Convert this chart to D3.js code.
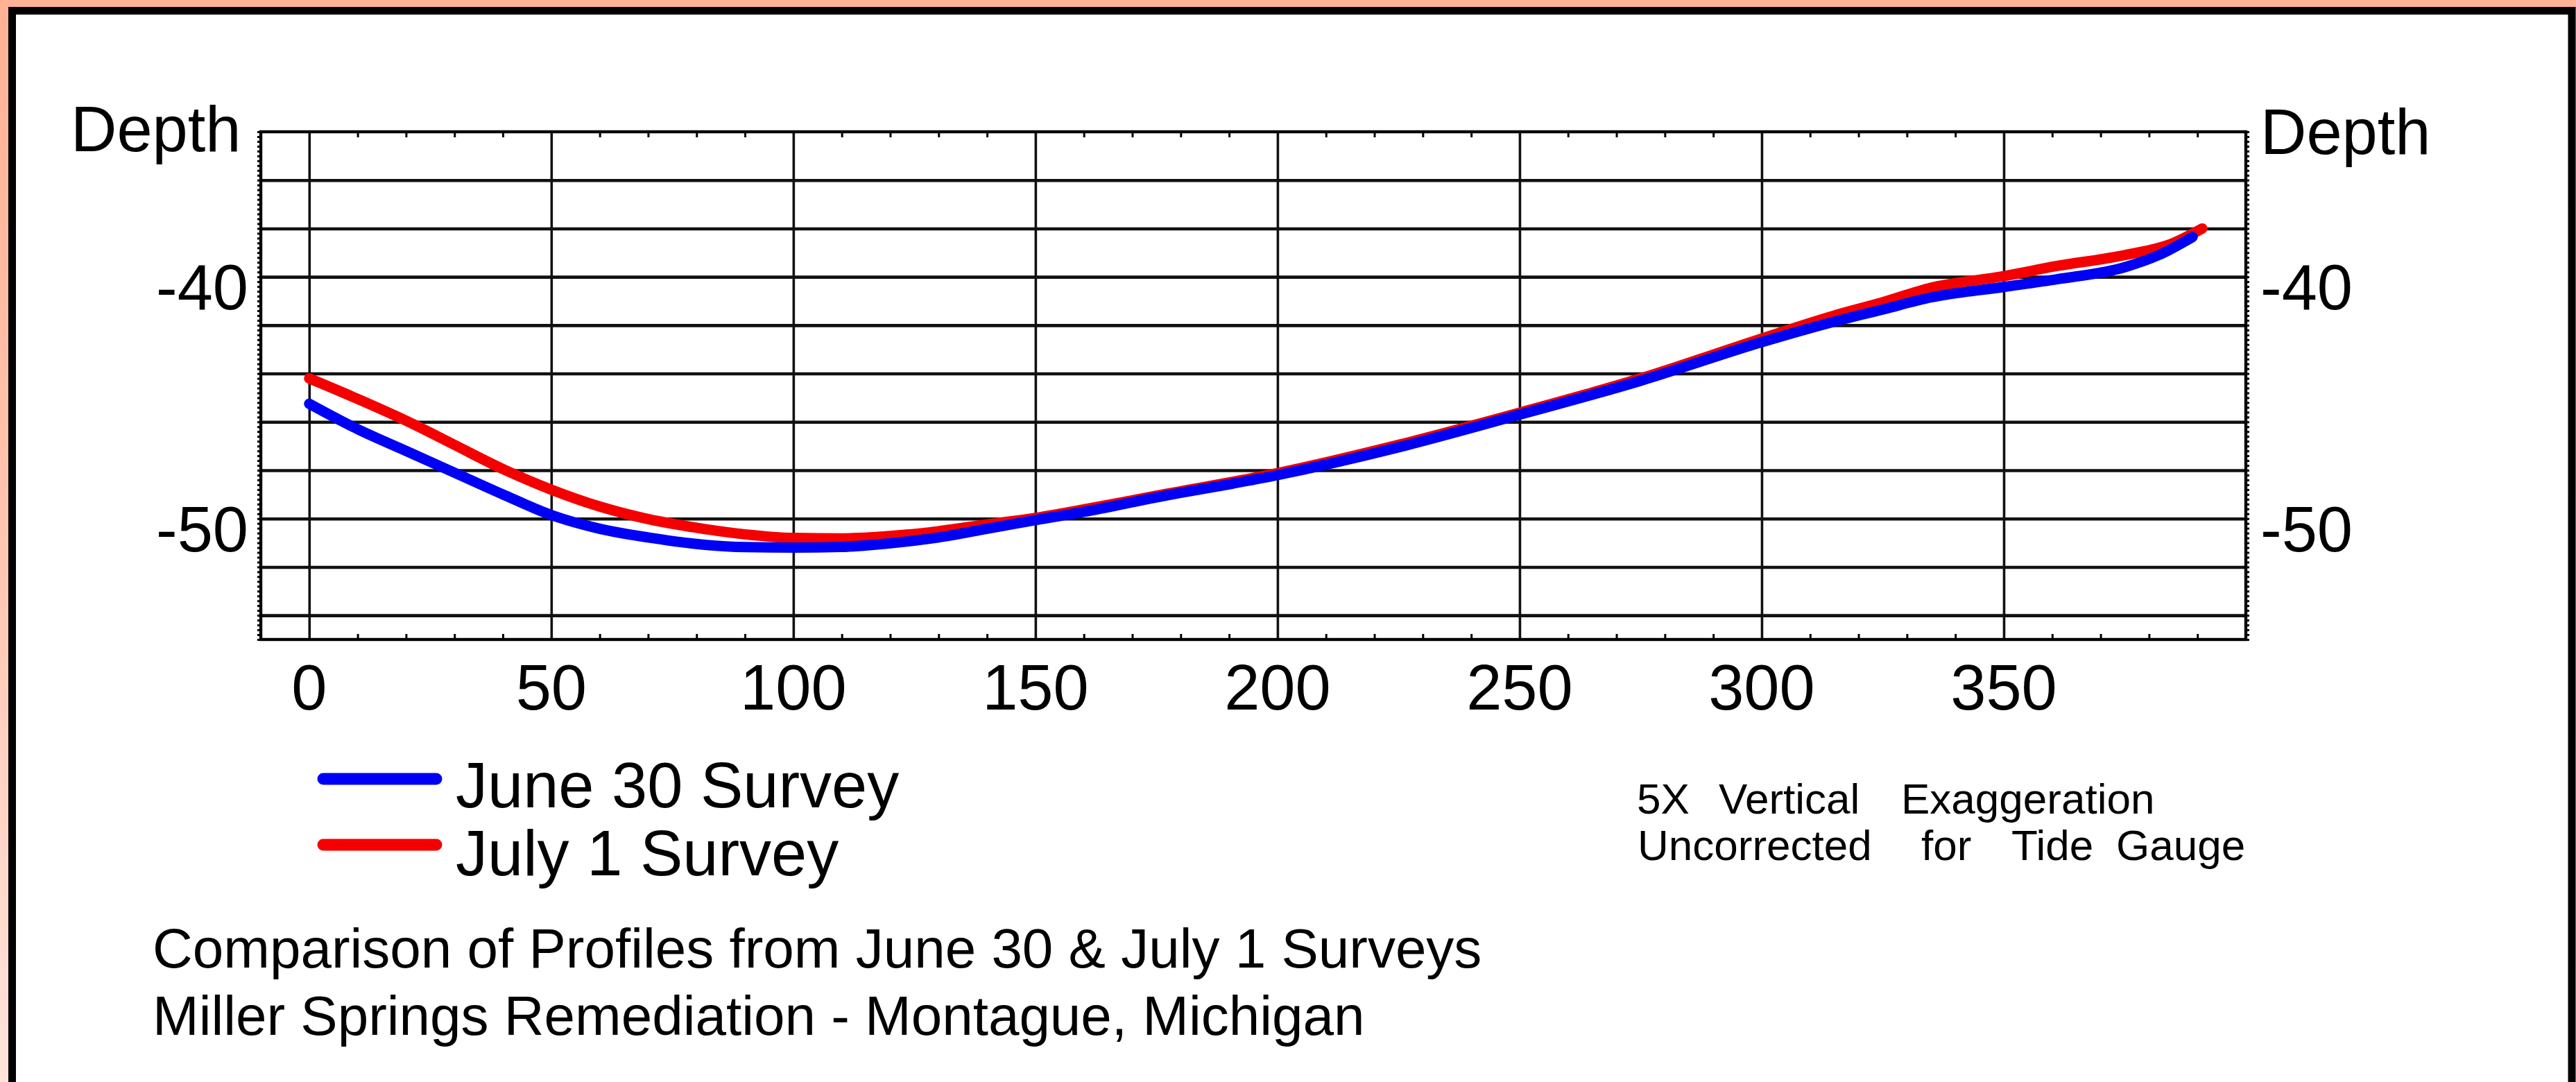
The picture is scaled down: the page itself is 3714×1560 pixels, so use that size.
<!DOCTYPE html>
<html>
<head>
<meta charset="utf-8">
<script src="https://cdn.jsdelivr.net/npm/d3@7"></script>
<style>
  html, body { margin: 0; padding: 0; overflow: hidden; background: #fff; }
  text { font-family: "Liberation Sans", Arial, Helvetica, sans-serif; fill: #000; }
</style>
</head>
<body>
<svg id="chart" width="3714" height="1560"></svg>
<script>
// Profile along the survey line: distance (ft) vs depth (ft)
const june30Distance = [0, 10, 20, 30, 40, 50, 60, 70, 80, 90, 100, 110, 120, 130, 140, 150, 160, 175, 200, 225, 250, 275, 300, 315, 325, 335, 350, 361, 375, 382, 389];
const june30Depth    = [-45.25, -46.3, -47.2, -48.1, -49.0, -49.85, -50.42, -50.78, -51.05, -51.18, -51.2, -51.17, -51.02, -50.78, -50.42, -50.06, -49.72, -49.12, -48.2, -47.05, -45.7, -44.3, -42.7, -41.85, -41.35, -40.85, -40.42, -40.1, -39.6, -39.1, -38.35];

const july1Distance = [0, 10, 20, 30, 40, 50, 60, 70, 80, 90, 100, 110, 120, 130, 140, 150, 160, 175, 200, 225, 250, 275, 300, 315, 325, 335, 350, 361, 375, 385, 391];
const july1Depth    = [-44.2, -45.05, -45.95, -46.95, -47.95, -48.8, -49.5, -50.02, -50.38, -50.65, -50.8, -50.82, -50.72, -50.52, -50.24, -49.97, -49.62, -49.05, -48.12, -46.95, -45.62, -44.2, -42.55, -41.6, -41.05, -40.45, -39.97, -39.55, -39.1, -38.6, -38.0];

const xMajorTicks = [0, 50, 100, 150, 200, 250, 300, 350];
const yLabelTicks = [-40, -50];
const yGridTicks  = [-54, -52, -50, -48, -46, -44, -42, -40, -38, -36];

const seriesNames  = ["June 30 Survey", "July 1 Survey"];
const titleLines   = ["Comparison of Profiles from June 30 & July 1 Surveys",
                      "Miller Springs Remediation - Montague, Michigan"];
const noteLine1    = ["5X", "Vertical", "Exaggeration"];
const noteLine2    = ["Uncorrected", "for", "Tide", "Gauge"];

const W = 3714, H = 1560;
const svg = d3.select("#chart");

// page background with soft salmon edge and black frame
const defs = svg.append("defs");
const grad = defs.append("linearGradient").attr("id", "edge").attr("x1", 0).attr("y1", 0).attr("x2", 0).attr("y2", 1);
grad.append("stop").attr("offset", "0%").attr("stop-color", "#ffb294");
grad.append("stop").attr("offset", "45%").attr("stop-color", "#ffc3ad");
grad.append("stop").attr("offset", "100%").attr("stop-color", "#ffe4dc");
svg.append("rect").attr("width", W).attr("height", H).attr("fill", "url(#edge)");
svg.append("rect")
  .attr("x", 17.5).attr("y", 15.5)
  .attr("width", 3708 - 17.5).attr("height", 1600)
  .attr("fill", "#fff").attr("stroke", "#000").attr("stroke-width", 11);

// plot area
const plotLeft = 376, plotRight = 3238, plotTop = 190, plotBottom = 922;
const x = d3.scaleLinear().domain([-10, 400]).range([plotLeft, plotRight]);
const y = d3.scaleLinear().domain([-34, -55]).range([plotTop, plotBottom]);

const g = svg.append("g");

// horizontal grid
g.append("g")
  .attr("transform", `translate(${plotLeft},0)`)
  .call(d3.axisLeft(y).tickValues(yGridTicks).tickSize(-(plotRight - plotLeft)).tickFormat(""))
  .call(a => a.select(".domain").remove())
  .call(a => a.selectAll("line").attr("stroke", "#111").attr("stroke-width", 4.6));

// vertical grid
g.append("g")
  .attr("transform", `translate(0,${plotBottom})`)
  .call(d3.axisBottom(x).tickValues(xMajorTicks).tickSize(-(plotBottom - plotTop)).tickFormat(""))
  .call(a => a.select(".domain").remove())
  .call(a => a.selectAll("line").attr("stroke", "#111").attr("stroke-width", 3.6));

// minor ticks every 10 ft, inside top and bottom edges
const xMinor = d3.range(10, 400, 10).filter(v => v % 50 !== 0);
g.append("g")
  .attr("transform", `translate(0,${plotBottom})`)
  .call(d3.axisBottom(x).tickValues(xMinor).tickSize(-8).tickFormat(""))
  .call(a => a.select(".domain").remove())
  .call(a => a.selectAll("line").attr("stroke", "#000").attr("stroke-width", 3));
g.append("g")
  .attr("transform", `translate(0,${plotTop})`)
  .call(d3.axisTop(x).tickValues(xMinor).tickSize(-8).tickFormat(""))
  .call(a => a.select(".domain").remove())
  .call(a => a.selectAll("line").attr("stroke", "#000").attr("stroke-width", 3));

// fine depth ticks every 0.2 ft on both sides
const yMinor = d3.range(-55, -33.99, 0.2);
g.append("g")
  .attr("transform", `translate(${plotLeft + 2},0)`)
  .call(d3.axisLeft(y).tickValues(yMinor).tickSize(7).tickFormat(""))
  .call(a => a.select(".domain").remove())
  .call(a => a.selectAll("line").attr("stroke", "#000").attr("stroke-width", 3));
g.append("g")
  .attr("transform", `translate(${plotRight - 2},0)`)
  .call(d3.axisRight(y).tickValues(yMinor).tickSize(7).tickFormat(""))
  .call(a => a.select(".domain").remove())
  .call(a => a.selectAll("line").attr("stroke", "#000").attr("stroke-width", 3));

// frame of the plot
g.append("rect")
  .attr("x", plotLeft).attr("y", plotTop)
  .attr("width", plotRight - plotLeft).attr("height", plotBottom - plotTop)
  .attr("fill", "none").attr("stroke", "#000").attr("stroke-width", 4.4);

// profiles
const line = d3.line().curve(d3.curveMonotoneX).x(d => x(d[0])).y(d => y(d[1]));
const july1 = july1Distance.map((d, i) => [d, july1Depth[i]]);
const june30 = june30Distance.map((d, i) => [d, june30Depth[i]]);
const colors = ["#0000f5", "#f50000"];

g.append("path").datum(july1).attr("d", line)
  .attr("fill", "none").attr("stroke", colors[1]).attr("stroke-width", 15)
  .attr("stroke-linecap", "round").attr("stroke-linejoin", "round");
g.append("path").datum(june30).attr("d", line)
  .attr("fill", "none").attr("stroke", colors[0]).attr("stroke-width", 15)
  .attr("stroke-linecap", "round").attr("stroke-linejoin", "round");

// axis labels
svg.append("g").selectAll("text").data(xMajorTicks).join("text")
  .attr("x", d => x(d)).attr("y", 1023)
  .attr("text-anchor", "middle").attr("font-size", 92)
  .text(d => d);
svg.append("g").selectAll("text").data(yLabelTicks).join("text")
  .attr("x", plotLeft - 18).attr("y", d => y(d) + 47)
  .attr("text-anchor", "end").attr("font-size", 92)
  .text(d => d);
svg.append("g").selectAll("text").data(yLabelTicks).join("text")
  .attr("x", plotRight + 21).attr("y", d => y(d) + 47)
  .attr("text-anchor", "start").attr("font-size", 92)
  .text(d => d);
svg.append("text").attr("x", 102).attr("y", 218).attr("font-size", 92).text("Depth");
svg.append("text").attr("x", 3259).attr("y", 222).attr("font-size", 92).text("Depth");

// legend
const legendY = [1123, 1218];
const legendText = [1164, 1262];
seriesNames.forEach((name, i) => {
  svg.append("line")
    .attr("x1", 466).attr("x2", 629).attr("y1", legendY[i]).attr("y2", legendY[i])
    .attr("stroke", colors[i]).attr("stroke-width", 17).attr("stroke-linecap", "round");
  svg.append("text").attr("x", 657).attr("y", legendText[i]).attr("font-size", 92).text(name);
});

// title block
svg.append("g").selectAll("text").data(titleLines).join("text")
  .attr("x", 220).attr("y", (d, i) => 1395 + i * 97)
  .attr("font-size", 80)
  .text(d => d);

// notes, words set apart as on the original sheet
const note1X = [2360, 2478, 2741];
const note2X = [2361, 2770, 2900, 3051];
svg.append("g").selectAll("text").data(noteLine1).join("text")
  .attr("x", (d, i) => note1X[i]).attr("y", 1173).attr("font-size", 62).text(d => d);
svg.append("g").selectAll("text").data(noteLine2).join("text")
  .attr("x", (d, i) => note2X[i]).attr("y", 1240).attr("font-size", 62).text(d => d);
</script>
</body>
</html>
